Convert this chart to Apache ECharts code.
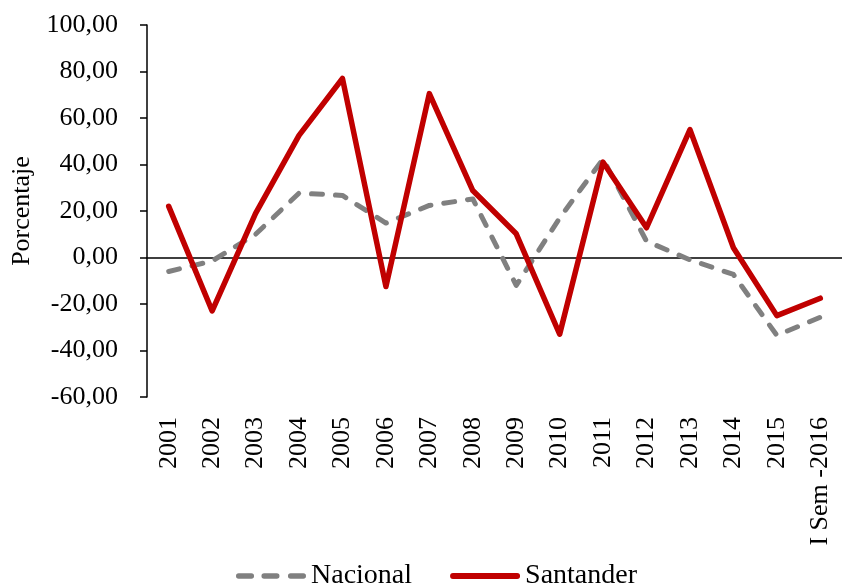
<!DOCTYPE html>
<html>
<head>
<meta charset="utf-8">
<script src="https://cdn.jsdelivr.net/npm/echarts@6/dist/echarts.min.js"></script>
<style>
  html, body { margin: 0; padding: 0; background: #fff; }
  #chart { width: 842px; height: 586px; }
</style>
</head>
<body>
<div id="chart"></div>
<script>
const categories = ['2001', '2002', '2003', '2004', '2005', '2006', '2007', '2008',
  '2009', '2010', '2011', '2012', '2013', '2014', '2015', 'I Sem -2016'];
const nacional = [-6, -1.5, 10, 27.7, 26.7, 14.8, 22.4, 25.2, -12, 17, 42.4, 7, -1, -7.3, -33.5, -25.7];
const santander = [22, -23, 19, 52.5, 77, -12.5, 70.5, 28.8, 10.2, -33, 41, 12.8, 55, 4.2, -25, -17.5];

const font = '"Liberation Serif", "DejaVu Serif", serif';

// legend icons: three rounded dashes / one rounded bar
const dashIcon = 'path://M2.5,0h12a2.5,2.5 0 0 1 0,5h-12a2.5,2.5 0 0 1 0,-5z' +
  'M26.5,0h12a2.5,2.5 0 0 1 0,5h-12a2.5,2.5 0 0 1 0,-5z' +
  'M51.5,0h12a2.5,2.5 0 0 1 0,5h-12a2.5,2.5 0 0 1 0,-5z';
const barIcon = 'path://M3,0h66a3,3 0 0 1 0,6h-66a3,3 0 0 1 0,-6z';

const myChart = echarts.init(document.getElementById('chart'));

const option = {
  animation: false,
  textStyle: { fontFamily: font },
  grid: {
    left: 147,
    right: -4,
    top: 25,
    bottom: 189,
  },
  legend: {
    left: 231,
    top: 557,
    itemWidth: 70,
    itemHeight: 6,
    itemGap: 38,
    textStyle: { fontFamily: font, fontSize: 28, color: '#000' },
    data: [
      { name: 'Nacional', icon: dashIcon },
      { name: 'Santander', icon: barIcon },
    ],
  },
  xAxis: [
    {
      type: 'category',
      data: categories,
      position: 'bottom',
      axisLine: { show: false, onZero: false },
      axisTick: { show: false },
      axisLabel: {
        rotate: 90,
        interval: 0,
        margin: 20,
        fontSize: 26,
        color: '#000',
        fontFamily: font,
      },
    },
    {
      // zero line
      type: 'category',
      data: categories,
      position: 'bottom',
      axisLine: { show: true, onZero: true, lineStyle: { color: '#000', width: 1.5 } },
      axisTick: { show: false },
      axisLabel: { show: false },
    },
  ],
  yAxis: {
    type: 'value',
    min: -60,
    max: 100,
    interval: 20,
    name: 'Porcentaje',
    nameLocation: 'middle',
    nameGap: 110,
    nameTextStyle: { fontSize: 26, color: '#000', fontFamily: font },
    axisLine: { show: true, lineStyle: { color: '#000', width: 1.5 } },
    axisTick: { show: true, length: 7, lineStyle: { color: '#000', width: 1.5 } },
    splitLine: { show: false },
    axisLabel: {
      margin: 29,
      fontSize: 26,
      color: '#000',
      fontFamily: font,
      formatter: (v) => v.toFixed(2).replace('.', ','),
    },
  },
  series: [
    {
      name: 'Nacional',
      type: 'line',
      symbol: 'none',
      data: nacional,
      lineStyle: { color: '#808080', width: 5, type: [11, 13], cap: 'round', join: 'round' },
      itemStyle: { color: '#808080' },
    },
    {
      name: 'Santander',
      type: 'line',
      symbol: 'none',
      data: santander,
      lineStyle: { color: '#C00000', width: 5.5, join: 'round', cap: 'round' },
      itemStyle: { color: '#C00000' },
    },
  ],
};

myChart.setOption(option);
</script>
</body>
</html>
